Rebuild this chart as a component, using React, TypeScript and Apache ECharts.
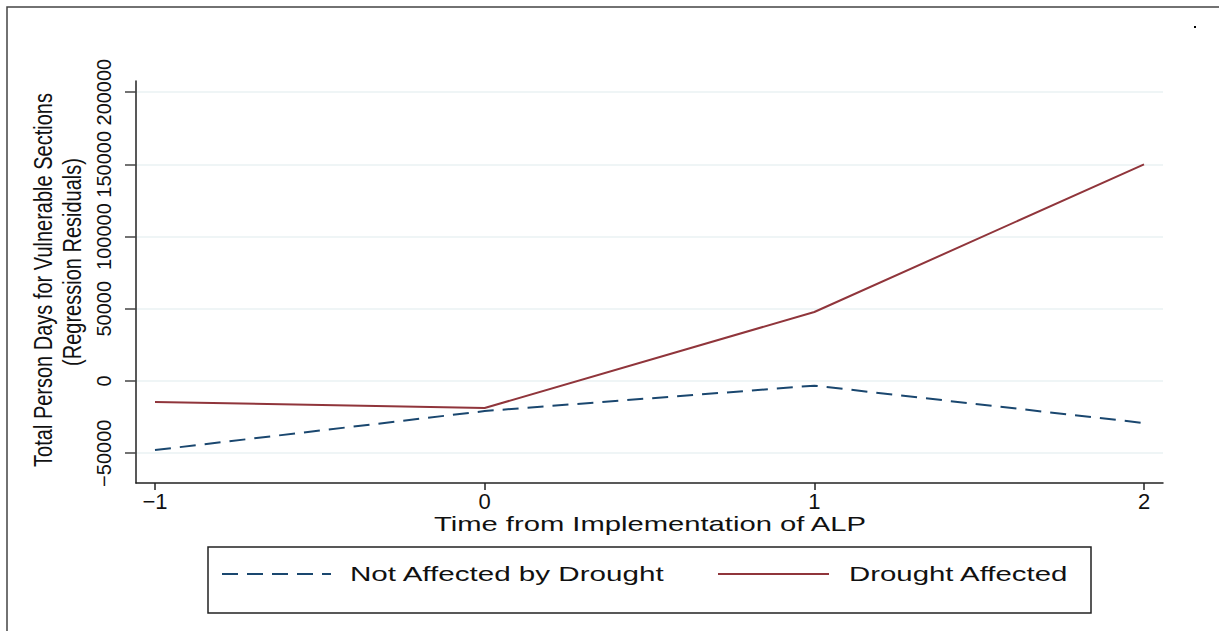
import React, { useEffect, useRef } from "react";
import * as echarts from "echarts";

const xTicks = [-1, 0, 1, 2];
const yTicks = [-50000, 0, 50000, 100000, 150000, 200000];
const notAffected = [-47800, -20800, -3200, -29100];
const droughtAffected = [-14500, -18700, 47800, 150000];
const seriesNames = ["Not Affected by Drought", "Drought Affected"];
const xTitle = "Time from Implementation of ALP";
const yTitle1 = "Total Person Days for Vulnerable Sections";
const yTitle2 = "(Regression Residuals)";

const BLUE = "#1a476f";
const RED = "#90353b";
const FONT = "'Liberation Sans', Arial, Helvetica, sans-serif";
const fmt = (v: number) => (v < 0 ? "\u2212" + Math.abs(v) : String(v));

export default function App() {
  const ref = useRef<HTMLDivElement>(null);
  useEffect(() => {
    if (!ref.current) return;
    const chart = echarts.init(ref.current, null, { renderer: "svg" });
    const SX = 1.46;
    chart.setOption({
      animation: false,
      backgroundColor: "#ffffff",
      textStyle: { fontFamily: FONT },
      grid: { left: 136, right: 56, top: 81, bottom: 148, containLabel: false },
      xAxis: {
        type: "value",
        min: -1.0576,
        max: 2.0576,
        axisLine: { show: true, onZero: false, lineStyle: { color: "#222", width: 1.5 } },
        axisTick: { show: true, length: 7, customValues: xTicks, lineStyle: { color: "#222", width: 1.5 } },
        axisLabel: { customValues: xTicks, formatter: fmt, fontSize: 22, color: "#111", margin: 7, fontFamily: FONT },
        splitLine: { show: false },
      },
      yAxis: {
        type: "value",
        min: -70600,
        max: 207700,
        axisLine: { show: true, onZero: false, lineStyle: { color: "#222", width: 1.5 } },
        axisTick: { show: true, length: 11, customValues: yTicks, lineStyle: { color: "#444", width: 1.5 } },
        axisLabel: { customValues: yTicks, formatter: fmt, rotate: 90, fontSize: 20, color: "#111", margin: 22, fontFamily: FONT },
        splitLine: { show: true, lineStyle: { color: "#eaf2f3", width: 1.5 } },
      },
      series: [
        {
          name: seriesNames[0],
          type: "line",
          data: xTicks.map((x, i) => [x, notAffected[i]]),
          showSymbol: false,
          lineStyle: { color: BLUE, width: 2, type: [16, 9] },
          itemStyle: { color: BLUE },
        },
        {
          name: seriesNames[1],
          type: "line",
          data: xTicks.map((x, i) => [x, droughtAffected[i]]),
          showSymbol: false,
          lineStyle: { color: RED, width: 2 },
          itemStyle: { color: RED },
        },
      ],
      graphic: [
        { type: "rect", shape: { x: 7, y: 7, width: 1300, height: 700 }, style: { fill: "none", stroke: "#444", lineWidth: 1.5 }, silent: true },
        { type: "rect", shape: { x: 1194, y: 26, width: 2, height: 2 }, style: { fill: "#000" } },
        {
          type: "text", x: 43, y: 280, rotation: Math.PI / 2, scaleY: 1.3,
          style: { text: yTitle1, font: `20px ${FONT}`, fill: "#111", align: "center", verticalAlign: "middle" },
        },
        {
          type: "text", x: 72, y: 262, rotation: Math.PI / 2, scaleY: 1.3,
          style: { text: yTitle2, font: `20px ${FONT}`, fill: "#111", align: "center", verticalAlign: "middle" },
        },
        {
          type: "text", x: 650, y: 524, scaleX: SX,
          style: { text: xTitle, font: `20px ${FONT}`, fill: "#111", align: "center", verticalAlign: "middle" },
        },
        { type: "rect", shape: { x: 208, y: 547, width: 883, height: 66 }, style: { fill: "none", stroke: "#222", lineWidth: 1.5 } },
        { type: "line", shape: { x1: 222, y1: 574, x2: 331, y2: 574 }, style: { stroke: BLUE, lineWidth: 2, lineDash: [16, 9] } },
        {
          type: "text", x: 350, y: 574, scaleX: 1.48,
          style: { text: seriesNames[0], font: `20px ${FONT}`, fill: "#111", align: "left", verticalAlign: "middle" },
        },
        { type: "line", shape: { x1: 718, y1: 574, x2: 829, y2: 574 }, style: { stroke: RED, lineWidth: 2 } },
        {
          type: "text", x: 849, y: 574, scaleX: 1.47,
          style: { text: seriesNames[1], font: `20px ${FONT}`, fill: "#111", align: "left", verticalAlign: "middle" },
        },
      ],
    });
    return () => chart.dispose();
  }, []);
  return (
    <div
      ref={ref}
      style={{ position: "fixed", left: 0, top: 0, width: 1219, height: 631, background: "#fff" }}
    />
  );
}
